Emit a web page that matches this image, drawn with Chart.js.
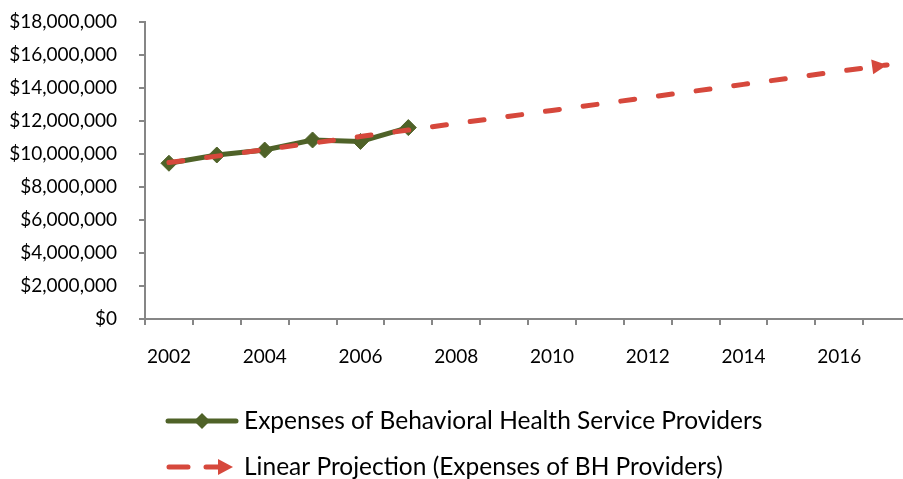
<!DOCTYPE html>
<html>
<head>
<meta charset="utf-8">
<script src="https://cdn.jsdelivr.net/npm/chart.js@4"></script>
<style>
    html, body { margin: 0; padding: 0; background: #fff; overflow: hidden; }
    #wrap { width: 930px; height: 479px; }
</style>
</head>
<body>
<div id="wrap"><canvas id="bhChart"></canvas></div>
<script>
// anos e valores
const anos = ['2002', '2003', '2004', '2005', '2006', '2007', '2008', '2009', '2010', '2011', '2012', '2013', '2014', '2015', '2016', '2017'];
const despesas = [9440000, 9940000, 10240000, 10850000, 10760000, 11600000];
const projecao = [9480000, 9870000, 10270000, 10660000, 11060000, 11450000, 11850000, 12240000,
    12640000, 13030000, 13430000, 13820000, 14220000, 14610000, 15010000, 15400000];
const yMax = 18000000;
const yStep = 2000000;

const nomeDespesas = 'Expenses of Behavioral Health Service Providers';
const nomeProjecao = 'Linear Projection (Expenses of BH Providers)';

const verde = '#4F6228';
const vermelho = '#D6483C';
const cinza = '#868686';

// ponta de seta no fim da projecao
const setaPlugin = {
    id: 'seta',
    afterDatasetsDraw(chart) {
        const meta = chart.getDatasetMeta(1);
        const pts = meta.data;
        const a = pts[pts.length - 2], b = pts[pts.length - 1];
        const ang = Math.atan2(b.y - a.y, b.x - a.x);
        const c = chart.ctx;
        c.save();
        c.translate(b.x, b.y);
        c.rotate(ang);
        c.fillStyle = vermelho;
        c.beginPath();
        c.moveTo(0, 0);
        c.lineTo(-15, -7.5);
        c.lineTo(-15, 7.5);
        c.closePath();
        c.fill();
        c.restore();
    }
};

// legenda desenhada em baixo
const legendaPlugin = {
    id: 'legendaBaixo',
    afterDraw(chart) {
        const c = chart.ctx;
        c.save();
        c.lineCap = 'round';
        // linha 1
        let y = 421;
        c.strokeStyle = verde;
        c.lineWidth = 5;
        c.beginPath();
        c.moveTo(168, y);
        c.lineTo(236, y);
        c.stroke();
        c.fillStyle = verde;
        c.beginPath();
        c.moveTo(202, y - 8);
        c.lineTo(210, y);
        c.lineTo(202, y + 8);
        c.lineTo(194, y);
        c.closePath();
        c.fill();
        // linha 2
        y = 467;
        c.strokeStyle = vermelho;
        c.fillStyle = vermelho;
        c.beginPath();
        c.moveTo(169, y);
        c.lineTo(188, y);
        c.moveTo(206, y);
        c.lineTo(220, y);
        c.stroke();
        c.beginPath();
        c.moveTo(233, y);
        c.lineTo(218, y - 8);
        c.lineTo(218, y + 8);
        c.closePath();
        c.fill();
        // textos
        c.fillStyle = '#000';
        c.font = '24.5px Lato';
        c.textBaseline = 'middle';
        c.textAlign = 'left';
        c.fillText(nomeDespesas, 244, 421);
        c.fillText(nomeProjecao, 244, 467);
        c.restore();
    }
};

const ctx = document.getElementById('bhChart').getContext('2d');
const bhChart = new Chart(ctx, {
    type: 'line',
    data: {
        labels: anos,
        datasets: [
            {
                label: nomeDespesas,
                data: despesas,
                borderColor: verde,
                backgroundColor: verde,
                borderWidth: 5,
                pointStyle: 'rectRot',
                pointRadius: 8,
                pointBorderWidth: 1,
                pointBackgroundColor: verde,
                pointBorderColor: verde,
                tension: 0,
                order: 1
            },
            {
                label: nomeProjecao,
                data: projecao,
                borderColor: vermelho,
                borderWidth: 5,
                borderDash: [14, 24],
                borderCapStyle: 'round',
                pointRadius: 0,
                tension: 0,
                order: 0
            }
        ]
    },
    options: {
        responsive: true,
        maintainAspectRatio: false,
        animation: false,
        layout: {
            padding: { top: 22, right: 19, bottom: 100, left: 0 }
        },
        plugins: {
            legend: { display: false },
            tooltip: { enabled: false }
        },
        scales: {
            x: {
                offset: true,
                grid: {
                    offset: true,
                    drawOnChartArea: false,
                    tickLength: 6,
                    color: cinza,
                    lineWidth: 2
                },
                border: { color: cinza, width: 2 },
                ticks: {
                    autoSkip: false,
                    maxRotation: 0,
                    padding: 20,
                    color: '#000',
                    font: { family: 'Lato', size: 19 },
                    callback: function (v, i) {
                        return i % 2 === 0 ? anos[i] : '';
                    }
                },
                afterFit: function (scale) {
                    scale.height = 60;
                    scale.paddingLeft = 0;
                    scale.paddingRight = 0;
                }
            },
            y: {
                min: 0,
                max: yMax,
                grid: {
                    drawOnChartArea: false,
                    tickLength: 6,
                    color: cinza,
                    lineWidth: 2
                },
                border: { color: cinza, width: 2 },
                ticks: {
                    stepSize: yStep,
                    padding: 22,
                    color: '#000',
                    font: { family: 'Lato', size: 19 },
                    callback: function (v) {
                        return '$' + v.toLocaleString('en-US');
                    }
                },
                afterFit: function (scale) {
                    scale.width = 145;
                    scale.paddingTop = 0;
                    scale.paddingBottom = 0;
                }
            }
        }
    },
    plugins: [setaPlugin, legendaPlugin]
});
</script>
</body>
</html>
